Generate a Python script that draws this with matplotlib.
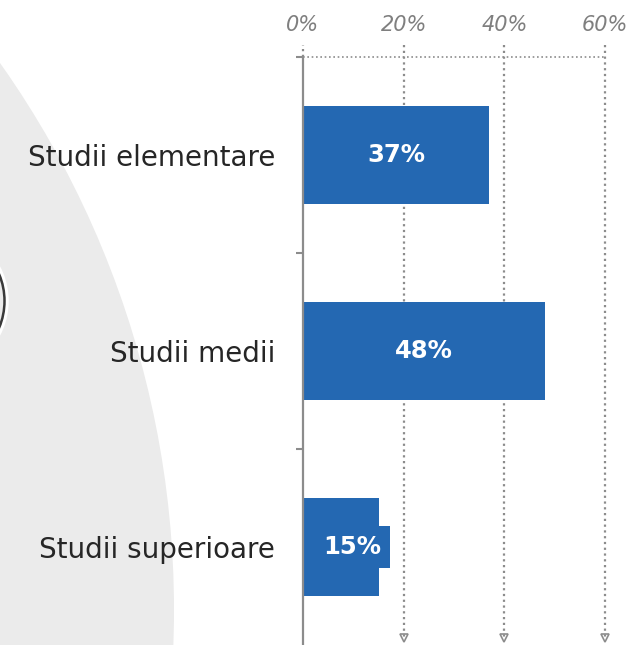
import matplotlib
matplotlib.use("Agg")
import matplotlib.pyplot as plt
from matplotlib.patches import Circle
import numpy as np

categories = ["Studii elementare", "Studii medii", "Studii superioare"]
values = [0.37, 0.48, 0.15]
value_labels = ["37%", "48%", "15%"]
x_ticks = [0.0, 0.2, 0.4, 0.6]
x_tick_labels = ["0%", "20%", "40%", "60%"]

bar_color = "#2468b2"
grid_color = "#8c8c8c"

W, H = 632, 645
fig = plt.figure(figsize=(W / 100, H / 100), dpi=100)

# background decoration in pixel coordinates
bg = fig.add_axes([0, 0, 1, 1], zorder=0)
bg.set_xlim(0, W)
bg.set_ylim(H, 0)
bg.axis("off")
bg.add_patch(Circle((-773, 610), 947, facecolor="#ebebeb", edgecolor="none"))
bg.add_patch(Circle((-65, 301), 72, facecolor="none", edgecolor="white", lw=2.5))
bg.add_patch(Circle((-65, 301), 69.5, facecolor="none", edgecolor="#3a3a3a", lw=1.8))

left, right, top = 303, 605, 57
ax = fig.add_axes([left / W, 0, (right - left) / W, 1 - top / H], zorder=1)
ax.patch.set_alpha(0)

y = np.arange(len(categories))
ax.barh(y, values, height=0.5, color=bar_color, zorder=3)

ax.set_xlim(0, 0.6)
ax.set_ylim(2.5, -0.5)

for i, (v, lab) in enumerate(zip(values, value_labels)):
    if v > 0.2:
        ax.text(v / 2, i, lab, ha="center", va="center", color="white",
                fontsize=17.5, fontweight="bold", zorder=4)
    else:
        ax.text(0.04, i, lab, ha="left", va="center", color="white",
                fontsize=17.5, fontweight="bold", zorder=4,
                bbox=dict(boxstyle="square,pad=0.35", facecolor=bar_color,
                          edgecolor="none"))

# dotted gridlines with arrow heads at the bottom
xt = ax.get_xaxis_transform()
for xv in x_ticks[1:]:
    ax.plot([xv, xv], [1.02, 0.012], transform=xt, color=grid_color,
            lw=1.6, ls=(0, (1, 1.6)), clip_on=False, zorder=2)
    ax.plot([xv], [0.012], transform=xt, marker="v", ms=6, mfc="none",
            mec=grid_color, mew=1.2, clip_on=False, zorder=2)
ax.plot([0, 0], [1.0, 1.02], transform=xt, color=grid_color, lw=1.6,
        ls=(0, (1, 1.6)), clip_on=False, zorder=2)
ax.plot([0, 0.6], [1, 1], transform=xt, color=grid_color, lw=1.2,
        ls=(0, (1, 1.6)), clip_on=False, zorder=2)

for s in ["top", "right", "bottom"]:
    ax.spines[s].set_visible(False)
ax.spines["left"].set_color(grid_color)
ax.spines["left"].set_linewidth(1.6)
ax.spines["left"].set_zorder(5)

ax.xaxis.tick_top()
ax.set_xticks(x_ticks)
ax.set_xticklabels(x_tick_labels, fontsize=15, style="italic", color="#7f7f7f")
ax.tick_params(axis="x", length=0, pad=16)

ax.set_yticks([-0.5, 0.5, 1.5])
ax.set_yticklabels([])
ax.tick_params(axis="y", which="major", length=5, width=1.5, color=grid_color)
ax.set_yticks(y, minor=True)
ax.set_yticklabels(categories, minor=True, fontsize=20, color="#262626")
ax.tick_params(axis="y", which="minor", length=0, pad=20)

fig.savefig("out.png", dpi=100)
